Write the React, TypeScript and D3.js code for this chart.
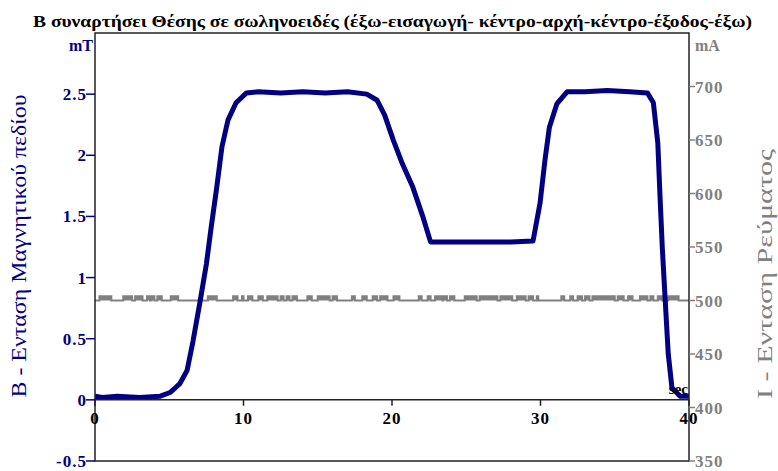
import { useEffect, useRef } from "react";
import * as d3 from "d3";

// B (mT) vs time (sec)
const bTime = [
  0, 0.5, 1.5, 3, 4.4, 5.05, 5.7, 6.2, 6.6, 7.07, 7.5, 7.8, 8.2, 8.55, 8.96,
  9.5, 10.2, 11, 12.5, 14, 15.5, 17, 18.3, 19.0, 19.5, 20.1, 20.7, 21.4, 22.1,
  22.6, 24, 26, 28, 29.5, 29.97, 30.3, 30.6, 31.1, 31.8, 33, 34.5, 36, 37.2,
  37.6, 37.9, 38.05, 38.2, 38.4, 38.6, 38.85, 39.4, 40,
];
const bValue = [
  0.03, 0.02, 0.03, 0.02, 0.03, 0.06, 0.13, 0.24, 0.48, 0.8, 1.11, 1.39, 1.74,
  2.07, 2.29, 2.43, 2.51, 2.52, 2.51, 2.52, 2.51, 2.52, 2.5, 2.45, 2.33, 2.12,
  1.93, 1.74, 1.49, 1.29, 1.29, 1.29, 1.29, 1.3, 1.61, 1.96, 2.23, 2.42, 2.52,
  2.52, 2.53, 2.52, 2.51, 2.43, 2.1, 1.66, 1.25, 0.81, 0.38, 0.1, 0.03, 0.03,
];

// current (mA): steady level with short noise spikes
const currentBase = 500;
const currentSpike = 504;
const spikeStart = [
  0.3, 1.9, 2.7, 3.5, 3.8, 4.2, 5.1, 7.6, 9.3, 9.9, 10.3, 11.0, 11.6, 12.5,
  12.9, 13.3, 14.3, 15.0, 16.0, 17.3, 18.0, 18.7, 19.2, 20.1, 21.8, 22.4, 22.9,
  23.45, 23.9, 24.9, 25.9, 27.3, 28.4, 29.2, 29.75, 31.4, 32.0, 32.5, 33.0,
  33.5, 35.2, 35.9, 36.7, 37.4, 37.9, 38.6,
];
const spikeEnd = [
  1.1, 2.5, 3.2, 3.7, 4.0, 4.5, 5.6, 8.2, 9.6, 10.0, 10.6, 11.3, 12.3, 12.7,
  13.1, 13.6, 14.6, 15.8, 16.3, 17.5, 18.3, 19.0, 19.7, 20.5, 22.0, 22.6, 23.4,
  23.7, 24.2, 25.7, 27.1, 28.1, 29.0, 29.5, 29.85, 31.6, 32.2, 32.8, 33.3,
  35.0, 35.6, 36.2, 37.2, 37.6, 38.2, 39.3,
];

const xTicks = [0, 10, 20, 30, 40];
const bTicks = [-0.5, 0, 0.5, 1, 1.5, 2, 2.5];
const iTicks = [350, 400, 450, 500, 550, 600, 650, 700];

const title =
  "B συναρτήσει Θέσης σε σωληνοειδές (έξω-εισαγωγή- κέντρο-αρχή-κέντρο-έξοδος-έξω)";

const W = 778;
const H = 471;
const NAVY = "#000080";
const GRAY = "#808080";
const FONT = "'Liberation Serif', 'Times New Roman', serif";

export default function App() {
  const svgRef = useRef<SVGSVGElement>(null);

  useEffect(() => {
    if (!svgRef.current) return;
    const svg = d3.select(svgRef.current);
    svg.selectAll("*").remove();

    const left = 95;
    const right = 689;
    const top = 33;
    const bottom = 461;

    const x = d3.scaleLinear().domain([0, 40]).range([left, right]);
    const yB = d3.scaleLinear().domain([-0.5, 3]).range([bottom, top]);
    const yI = d3.scaleLinear().domain([350, 750]).range([bottom, top]);

    // title
    svg
      .append("text")
      .attr("x", 33)
      .attr("y", 27)
      .attr("textLength", 719)
      .attr("lengthAdjust", "spacingAndGlyphs")
      .style("font-family", FONT)
      .style("font-weight", "bold")
      .style("font-size", "17px")
      .text(title);

    // current trace
    const iPts: [number, number][] = [[0, currentBase]];
    spikeStart.forEach((s, i) => {
      iPts.push([s, currentBase], [s, currentSpike], [spikeEnd[i], currentSpike], [spikeEnd[i], currentBase]);
    });
    iPts.push([40, currentBase]);
    svg
      .append("path")
      .attr(
        "d",
        d3
          .line<[number, number]>()
          .x((d) => x(d[0]))
          .y((d) => yI(d[1]))(iPts) as string
      )
      .attr("fill", GRAY)
      .attr("stroke", GRAY)
      .attr("stroke-width", 2);

    // B trace
    const bPts = bTime.map((t, i) => [t, bValue[i]] as [number, number]);
    svg
      .append("path")
      .attr(
        "d",
        d3
          .line<[number, number]>()
          .x((d) => x(d[0]))
          .y((d) => yB(d[1]))(bPts) as string
      )
      .attr("fill", "none")
      .attr("stroke", NAVY)
      .attr("stroke-width", 5)
      .attr("stroke-linejoin", "round");

    // frame
    svg
      .append("rect")
      .attr("x", left)
      .attr("y", top)
      .attr("width", right - left)
      .attr("height", bottom - top)
      .attr("fill", "none")
      .attr("stroke", "#222")
      .attr("stroke-width", 1.5);

    const tickText = (sel: d3.Selection<SVGTextElement, unknown, null, undefined>) =>
      sel
        .style("font-family", FONT)
        .style("font-weight", "bold")
        .style("font-size", "17px")
        .style("letter-spacing", "1px");

    // x axis at B = 0
    const gx = svg.append("g").attr("transform", `translate(0,${yB(0)})`);
    gx.append("line")
      .attr("x1", left)
      .attr("x2", right)
      .attr("stroke", "#222")
      .attr("stroke-width", 1.5);
    xTicks.forEach((t) => {
      gx.append("line")
        .attr("x1", x(t))
        .attr("x2", x(t))
        .attr("y1", 0)
        .attr("y2", 6)
        .attr("stroke", "#222")
        .attr("stroke-width", 1.5);
      tickText(
        gx.append("text")
          .attr("x", x(t))
          .attr("y", 24)
          .attr("text-anchor", "middle")
      ).text(t);
    });

    // left axis
    bTicks.forEach((v) => {
      svg
        .append("line")
        .attr("x1", left - 9)
        .attr("x2", left)
        .attr("y1", yB(v))
        .attr("y2", yB(v))
        .attr("stroke", NAVY)
        .attr("stroke-width", 1.5);
      tickText(
        svg
          .append("text")
          .attr("x", left - 8)
          .attr("y", yB(v) + 6)
          .attr("text-anchor", "end")
          .attr("fill", NAVY)
      ).text(v);
    });

    // right axis
    iTicks.forEach((v) => {
      svg
        .append("line")
        .attr("x1", right)
        .attr("x2", right + 6)
        .attr("y1", yI(v))
        .attr("y2", yI(v))
        .attr("stroke", GRAY)
        .attr("stroke-width", 1.5);
      tickText(
        svg
          .append("text")
          .attr("x", right + 6)
          .attr("y", yI(v) + 6)
          .attr("fill", GRAY)
      ).text(v);
    });

    // units
    svg
      .append("text")
      .attr("x", 93)
      .attr("y", 51)
      .attr("text-anchor", "end")
      .attr("fill", NAVY)
      .style("font-family", FONT)
      .style("font-weight", "bold")
      .style("font-size", "16px")
      .text("mT");
    svg
      .append("text")
      .attr("x", 695)
      .attr("y", 51)
      .attr("fill", GRAY)
      .style("font-family", FONT)
      .style("font-weight", "bold")
      .style("font-size", "16px")
      .text("mA");
    svg
      .append("text")
      .attr("x", 688)
      .attr("y", 394)
      .attr("text-anchor", "end")
      .style("font-family", FONT)
      .style("font-weight", "bold")
      .style("font-size", "15px")
      .text("sec");

    // axis titles
    svg
      .append("text")
      .attr("transform", `translate(26,246) rotate(-90)`)
      .attr("text-anchor", "middle")
      .attr("textLength", 303)
      .attr("lengthAdjust", "spacingAndGlyphs")
      .attr("fill", NAVY)
      .style("font-family", FONT)
      .style("font-size", "21px")
      .text("B - Ενταση Μαγνητικού πεδίου");
    svg
      .append("text")
      .attr("transform", `translate(772,274) rotate(-90)`)
      .attr("text-anchor", "middle")
      .attr("textLength", 250)
      .attr("lengthAdjust", "spacingAndGlyphs")
      .attr("fill", GRAY)
      .style("font-family", FONT)
      .style("font-size", "22px")
      .text("I - Ενταση Ρεύματος");
  }, []);

  return (
    <svg
      ref={svgRef}
      width={W}
      height={H}
      style={{ position: "absolute", left: 0, top: 0, background: "#fff" }}
    />
  );
}
